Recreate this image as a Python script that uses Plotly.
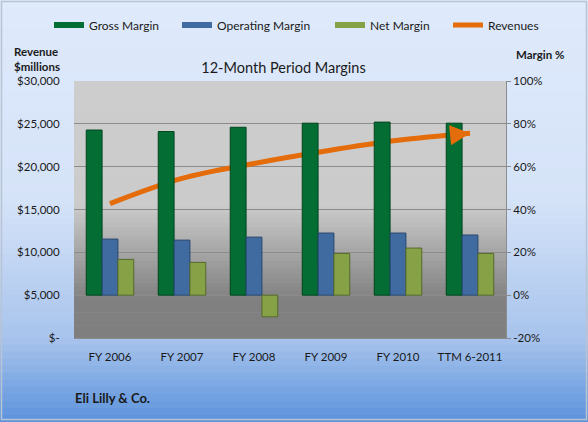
import plotly.graph_objects as go

periods = ["FY 2006", "FY 2007", "FY 2008", "FY 2009", "FY 2010", "TTM 6-2011"]
gross_margin = [77.1, 76.4, 78.4, 80.3, 80.8, 80.3]
operating_margin = [26.2, 25.7, 27.1, 29.0, 29.0, 28.1]
net_margin = [16.7, 15.3, -10.1, 19.5, 22.0, 19.5]
revenues = [15691, 18634, 20378, 21836, 23076, 23900]

rev_ticks = [0, 5000, 10000, 15000, 20000, 25000, 30000]
rev_ticktext = ["$-", "$5,000", "$10,000", "$15,000", "$20,000", "$25,000", "$30,000"]
pct_ticks = [-20, 0, 20, 40, 60, 80, 100]
pct_ticktext = ["-20%", "0%", "20%", "40%", "60%", "80%", "100%"]

W, H = 588, 422
M_L, M_R, M_T, M_B = 74, 82, 81, 84
FONT = "Lato"
ORANGE = "#e46c0a"
LEGEND_X = [49, 177, 330, 448]  # one legend box per key entry, Excel-style spacing


def py(p):
    # pixel row -> paper y
    return (H - M_B - p) / (H - M_T - M_B)


def px(p):
    return (p - M_L) / (W - M_L - M_R)


def hex2rgb(h):
    h = h.lstrip("#")
    return [int(h[i:i + 2], 16) for i in (0, 2, 4)]


def gradient(stops, x0, x1, steps=60):
    # stops: list of (pixel_y, hex colour)
    out = []
    top, bot = stops[0][0], stops[-1][0]
    for i in range(steps):
        a = top + (bot - top) * i / steps
        b = top + (bot - top) * (i + 1) / steps
        m = (a + b) / 2
        for (p0, c0), (p1, c1) in zip(stops[:-1], stops[1:]):
            if p0 <= m <= p1:
                t = (m - p0) / (p1 - p0)
                r = [round(u + (v - u) * t) for u, v in zip(hex2rgb(c0), hex2rgb(c1))]
                break
        out.append(dict(type="rect", xref="paper", yref="paper", layer="below",
                        x0=px(x0), x1=px(x1), y0=py(b + 0.5), y1=py(a),
                        line=dict(width=0), fillcolor="rgb(%d,%d,%d)" % tuple(r)))
    return out


shapes = gradient([(0, "#dfeafb"), (200, "#d5e3f8"), (340, "#a7c3ec"), (422, "#5b92dc")], 0, W)
shapes += gradient([(81, "#cdcdcd"), (205, "#cbcbcb"), (300, "#808080"), (338, "#7f7f7f")], 74, 506)
shapes.append(dict(type="rect", xref="paper", yref="paper", layer="above",
                   x0=px(1.5), x1=px(W - 1.5), y0=py(H - 2.5), y1=py(1.5),
                   line=dict(color="#b8c4d4", width=1.5)))

legend_names = ["legend", "legend2", "legend3", "legend4"]

fig = go.Figure()
bar_style = [
    ("Gross Margin", gross_margin, "#046d33", "#02471f"),
    ("Operating Margin", operating_margin, "#3f6ba1", "#27466e"),
    ("Net Margin", net_margin, "#87a146", "#566a2a"),
]
for i, (name, vals, col, edge) in enumerate(bar_style):
    fig.add_trace(go.Bar(
        x=periods, y=vals, name=name, yaxis="y2", showlegend=False,
        marker=dict(color=col, line=dict(color=edge, width=1)),
    ))
    # flat swatch for the legend, like the Excel key
    fig.add_trace(go.Scatter(
        x=[None], y=[None], name=name, mode="lines", yaxis="y2",
        line=dict(color=col, width=6), legend=legend_names[i],
    ))

fig.add_trace(go.Scatter(
    x=periods, y=revenues, name="Revenues", mode="lines",
    line=dict(color=ORANGE, width=5, shape="spline"), legend=legend_names[3],
))

# arrow head at the end of the revenue line
arrow = dict(
    x=periods[-1], y=revenues[-1], xref="x", yref="y",
    ax=len(periods) - 1.25, ay=revenues[-2] + (revenues[-1] - revenues[-2]) * 0.75,
    axref="x", ayref="y", showarrow=True, text="",
    arrowhead=2, arrowsize=0.8, arrowwidth=5, arrowcolor=ORANGE, standoff=0,
)

legends = {}
for key, lx in zip(legend_names, LEGEND_X):
    legends[key] = dict(orientation="h", xref="container", x=lx / W, xanchor="left",
                        yref="container", y=1 - 25 / H, yanchor="middle",
                        bgcolor="rgba(0,0,0,0)", font=dict(size=12), itemwidth=30)

fig.update_layout(
    width=W, height=H,
    margin=dict(l=M_L, r=M_R, t=M_T, b=M_B, autoexpand=False),
    paper_bgcolor="#dfeafb",
    plot_bgcolor="rgba(0,0,0,0)",
    font=dict(family=FONT, size=11, color="#1a1a1a"),
    barmode="group", bargap=0.34, bargroupgap=0,
    shapes=shapes,
    showlegend=True,
    title=dict(text="12-Month Period Margins", x=px(283.5), xref="paper", xanchor="center",
               y=1 - 68 / H, yref="container", yanchor="middle",
               font=dict(size=14.5, color="#1a1a1a")),
    xaxis=dict(showgrid=False, showline=True, linecolor="#8c8c8c", linewidth=1,
               ticks="", ticklabelstandoff=8, tickfont=dict(size=11.5), fixedrange=True),
    yaxis=dict(range=[0, 30000], tickvals=rev_ticks, ticktext=rev_ticktext,
               showgrid=True, gridcolor="#8c8c8c", gridwidth=1, zeroline=False,
               showline=False, ticks="outside", ticklen=11, tickcolor="rgba(0,0,0,0)",
               tickfont=dict(size=11.5)),
    yaxis2=dict(range=[-20, 100], tickvals=pct_ticks, ticktext=pct_ticktext,
                overlaying="y", side="right", showgrid=False, zeroline=False,
                showline=True, linecolor="#8c8c8c", linewidth=1,
                ticks="outside", ticklen=4, tickcolor="#8c8c8c", tickfont=dict(size=11.5)),
    annotations=[
        arrow,
        dict(text="<b>Revenue<br>$millions</b>", xref="paper", yref="paper",
             x=px(12), y=py(59), xanchor="left", yanchor="middle", align="left",
             showarrow=False, font=dict(size=11.5)),
        dict(text="<b>Margin %</b>", xref="paper", yref="paper",
             x=px(540), y=py(55), xanchor="center", yanchor="middle",
             showarrow=False, font=dict(size=11.5)),
        dict(text="<b>Eli Lilly & Co.</b>", xref="paper", yref="paper",
             x=px(73), y=py(398), xanchor="left", yanchor="middle",
             showarrow=False, font=dict(size=13)),
    ],
    **legends,
)

# the page's default 8px body margin would shift the whole chart
fig.write_html("out.html", config={"displayModeBar": False},
               post_script="document.body.style.margin='0';")
